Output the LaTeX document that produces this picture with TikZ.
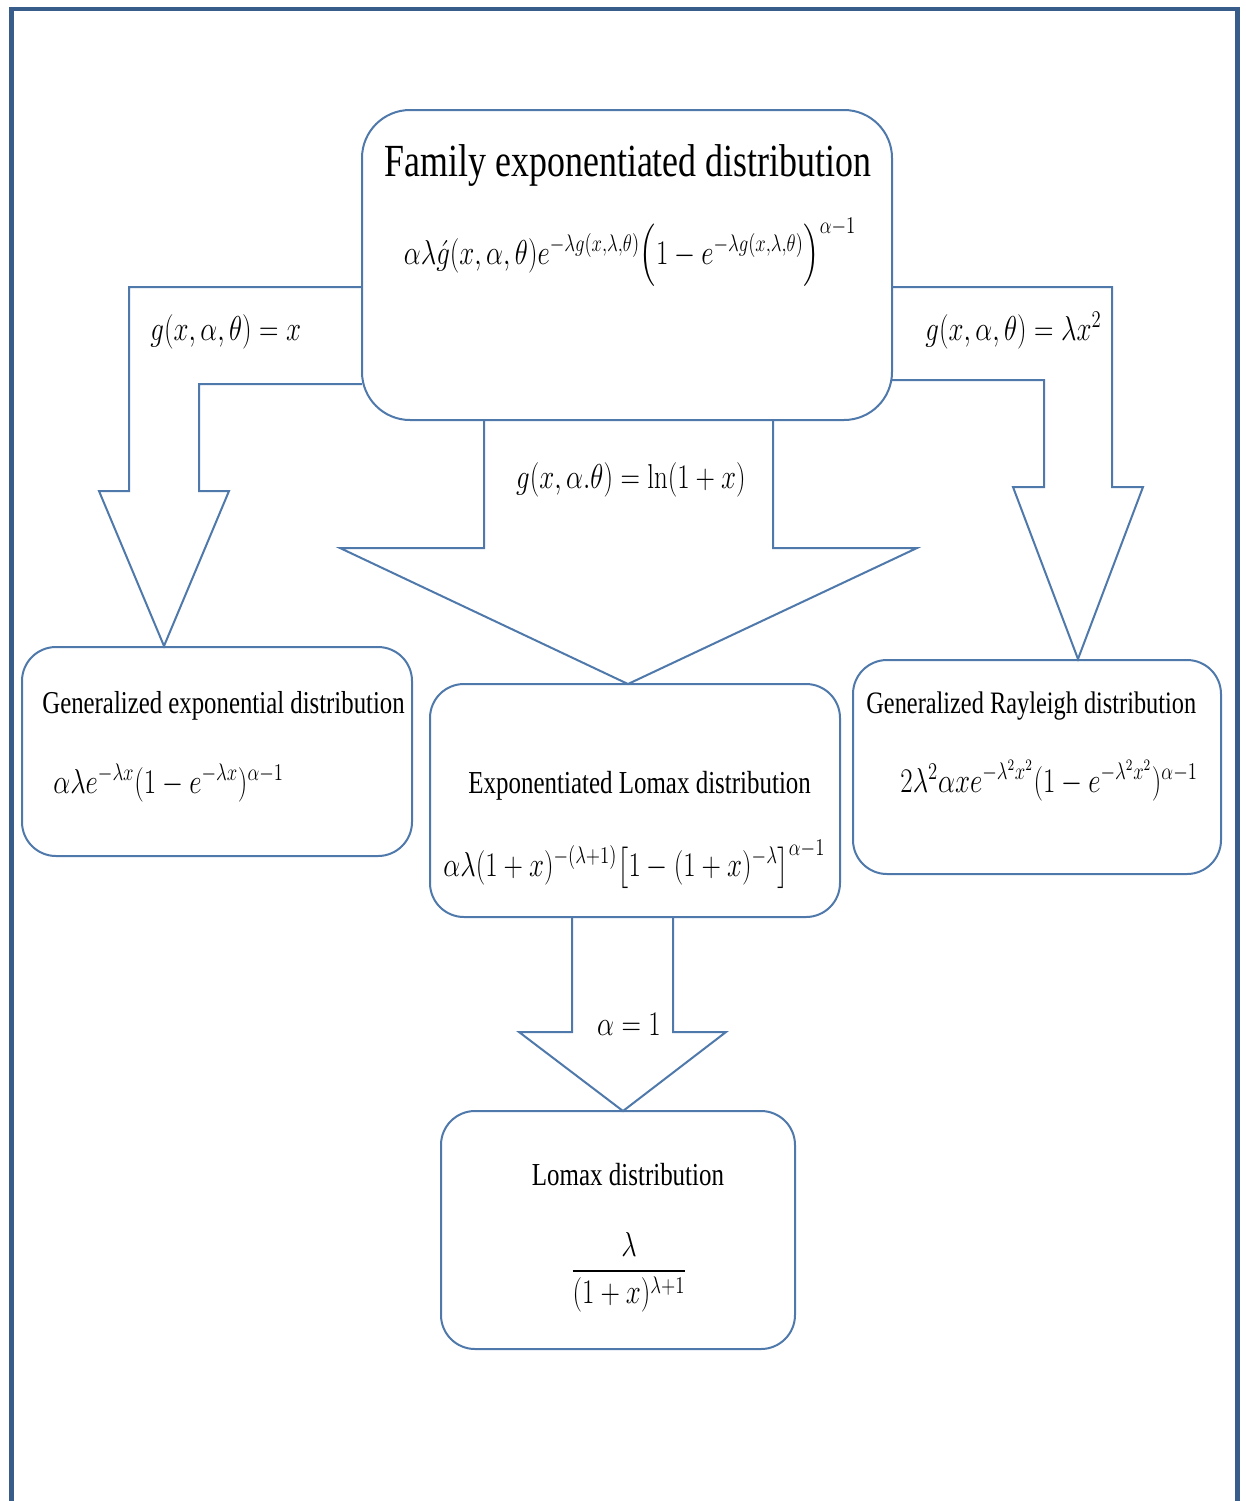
\documentclass[tikz,border=0pt]{standalone}
\usepackage[no-math]{fontspec}
\setmainfont{Liberation Serif}
\usepackage{amsmath}
\definecolor{shp}{RGB}{79,121,171}
\definecolor{frm}{RGB}{56,93,138}
\newcommand{\sq}[1]{\scalebox{0.78}[1]{#1}}
\newcommand{\fs}[1]{\fontsize{#1}{#1}\selectfont}
\begin{document}
\begin{tikzpicture}[x=0.5pt,y=-0.5pt,
  box/.style={draw=shp,line width=1pt,rounded corners=#1,inner sep=0pt},
  box/.default=17pt,
  blk/.style={draw=shp,line width=1pt,line join=miter},
  txt/.style={inner sep=0pt,text=black}]
\useasboundingbox (0,0) rectangle (1246,1501);
\fill[white] (0,0) rectangle (1246,1501);
% outer frame
\draw[frm,line width=2.3pt] (11.5,1510) -- (11.5,9) -- (1237.5,9) -- (1237.5,1510);

% block arrows
\draw[blk] (362,287) -- (129,287) -- (129,491) -- (99,491) -- (164,646) -- (229,491) -- (199,491) -- (199,384) -- (362,384);
\draw[blk] (892,287) -- (1112,287) -- (1112,487) -- (1143,487) -- (1078,659) -- (1013,487) -- (1044,487) -- (1044,380) -- (892,380);
\draw[blk] (484,420) -- (484,548) -- (340,548) -- (628,684) -- (917,548) -- (773,548) -- (773,420);
\draw[blk] (572,917) -- (572,1032) -- (519,1032) -- (623,1111) -- (726,1032) -- (673,1032) -- (673,917);

% boxes
\node[box=24pt,minimum width=265pt,minimum height=155pt] (top) at (627,265) {};
\node[box=17pt,minimum width=195pt,minimum height=104.5pt] (ge) at (217,751.5) {};
\node[box=17pt,minimum width=205pt,minimum height=116.5pt] (el) at (635,800.5) {};
\node[box=17pt,minimum width=184pt,minimum height=107pt] (gr) at (1037,767) {};
\node[box=17pt,minimum width=177pt,minimum height=119pt] (lm) at (618,1230) {};

% texts
\node[txt,anchor=base] (t0) at (628,176) {\sq{\fs{23}Family exponentiated distribution}};
\node[txt,anchor=base] (f0) at (630,264) {\sq{\fs{16.5}$\alpha\lambda\acute{g}(x,\alpha,\theta)e^{-\lambda g(x,\lambda,\theta)}\Bigl(1-e^{-\lambda g(x,\lambda,\theta)}\Bigr)^{\alpha-1}$}};

\node[txt,anchor=base west] (l1) at (150,340) {\sq{\fs{16.5}$g(x,\alpha,\theta) = x$}};
\node[txt,anchor=base west] (l2) at (925,340) {\sq{\fs{16.5}$g(x,\alpha,\theta) = \lambda x^2$}};
\node[txt,anchor=base] (l3) at (631,488) {\sq{\fs{16.5}$g(x,\alpha.\theta) = \ln(1+x)$}};
\node[txt,anchor=base] (l4) at (629,1035) {\sq{\fs{16.5}$\alpha = 1$}};

\node[txt,anchor=base west] (t1) at (42,713) {\sq{\fs{15.9}Generalized exponential distribution}};
\node[txt,anchor=base west] (f1) at (53,793) {\sq{\fs{16.5}$\alpha\lambda e^{-\lambda x}(1-e^{-\lambda x})^{\alpha-1}$}};

\node[txt,anchor=base west] (t2) at (468,793) {\sq{\fs{16}Exponentiated Lomax distribution}};
\node[txt,anchor=base west] (f2) at (443,876) {\sq{\fs{16.5}$\alpha\lambda(1+x)^{-(\lambda+1)}\bigl[1-(1+x)^{-\lambda}\bigr]^{\alpha-1}$}};

\node[txt,anchor=base west] (t3) at (866,713) {\sq{\fs{15.6}Generalized Rayleigh distribution}};
\node[txt,anchor=base west] (f3) at (900,792) {\sq{\fs{16.5}$2\lambda^2\alpha x e^{-\lambda^2x^2}(1-e^{-\lambda^2x^2})^{\alpha-1}$}};

\node[txt,anchor=base] (t4) at (628,1185) {\sq{\fs{16}Lomax distribution}};
\node[txt] (f4) at (629,1272) {\sq{\fs{17}$\dfrac{\lambda}{(1+x)^{\lambda+1}}$}};
\end{tikzpicture}
\end{document}
